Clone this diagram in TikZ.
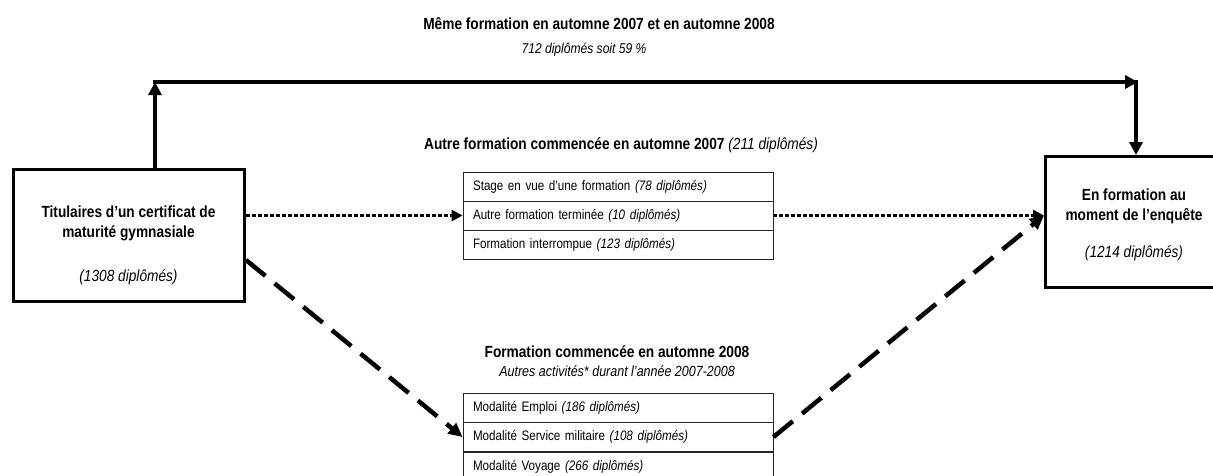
\documentclass[tikz,border=0pt]{standalone}
\usepackage{fontspec}
\setmainfont{Liberation Sans}[FakeStretch=0.85]
\usetikzlibrary{arrows.meta}
\begin{document}
\begin{tikzpicture}[x=1pt,y=-1pt,
  bigbox/.style={draw, line width=3pt, inner sep=0pt},
  rowbox/.style={draw=black!85, line width=0.9pt, minimum width=310pt, minimum height=29pt,
     text width=290pt, inner xsep=10pt, inner ysep=0pt, align=left,
     font=\fontsize{13.7}{15}\selectfont},
  headtxt/.style={font=\fontsize{16.1}{18}\selectfont\bfseries, inner sep=0pt},
  boxtxt/.style={font=\fontsize{16.1}{20}\selectfont\bfseries, align=center, inner sep=0pt},
  solidarrow/.style={line width=4.5pt, -{Triangle[length=13pt,width=13pt]}},
  dotarrow/.style={line width=3.5pt, dash pattern=on 3.5pt off 2.5pt, -{Triangle[length=11pt,width=11pt]}},
  dasharrow/.style={line width=4.5pt, dash pattern=on 25pt off 12pt, -{Triangle[length=14pt,width=13pt]}}
]
\clip (0,0) rectangle (1213,475);
\fill[white] (0,0) rectangle (1213,475);

% main boxes
\node[bigbox, minimum width=231pt, minimum height=132pt] (L) at (129,235.5) {};
\node[boxtxt] (Lt) at (128.5,245) {Titulaires d'un certificat de\\ maturité gymnasiale\\[24pt] {\mdseries\itshape (1308 diplômés)}};

\node[bigbox, minimum width=180pt, minimum height=131pt] (R) at (1135.5,222) {};
\node[boxtxt] (Rt) at (1134,225) {En formation au\\ moment de l'enquête\\[17pt] {\mdseries\itshape (1214 diplômés)}};

% top labels
\node[headtxt] (t1) at (599,24) {Même formation en automne 2007 et en automne 2008};
\node[font=\fontsize{14.2}{16}\selectfont\itshape, inner sep=0pt] (t2) at (584,50) {712 diplômés soit 59 \%};

% middle group
\node[headtxt] (h2) at (621,145) {Autre formation commencée en automne 2007 {\mdseries\itshape (211 diplômés)}};
\node[rowbox] (s1) at (618,186.5) {Stage en vue d'une formation \textit{(78 diplômés)}};
\node[rowbox] (s2) at (618,215.5) {Autre formation terminée \textit{(10 diplômés)}};
\node[rowbox] (s3) at (618,244.5) {Formation interrompue \textit{(123 diplômés)}};

% bottom group
\node[headtxt] (h3) at (617,352) {Formation commencée en automne 2008};
\node[font=\fontsize{14.7}{16}\selectfont\itshape, inner sep=0pt] (h3b) at (617,371) {Autres activités* durant l'année 2007-2008};
\node[rowbox] (m1) at (618,407.5) {Modalité Emploi \textit{(186 diplômés)}};
\node[rowbox] (m2) at (618,437) {Modalité Service militaire \textit{(108 diplômés)}};
\node[rowbox] (m3) at (618,466.5) {Modalité Voyage \textit{(266 diplômés)}};

% top solid route
\coordinate (c1) at (155,82);
\coordinate (c2) at (1136,82);
\draw[solidarrow] (L.north -| c1) -- (c1);
\draw[solidarrow] ([xshift=-2.25pt]c1) -- ([xshift=2pt]c2);
\draw[solidarrow] ([yshift=2.25pt]c2) -- (c2 |- R.north);

% dotted route
\draw[dotarrow] (L.east |- s2.west) -- (s2.west);
\draw[dotarrow] (s2.east) -- (R.west |- s2.east);

% dashed route
\draw[dasharrow] ([yshift=-24.5pt]L.east) -- (m2.west);
\draw[dasharrow] (m2.east) -- (R.west |- s2.east);
\end{tikzpicture}
\end{document}
